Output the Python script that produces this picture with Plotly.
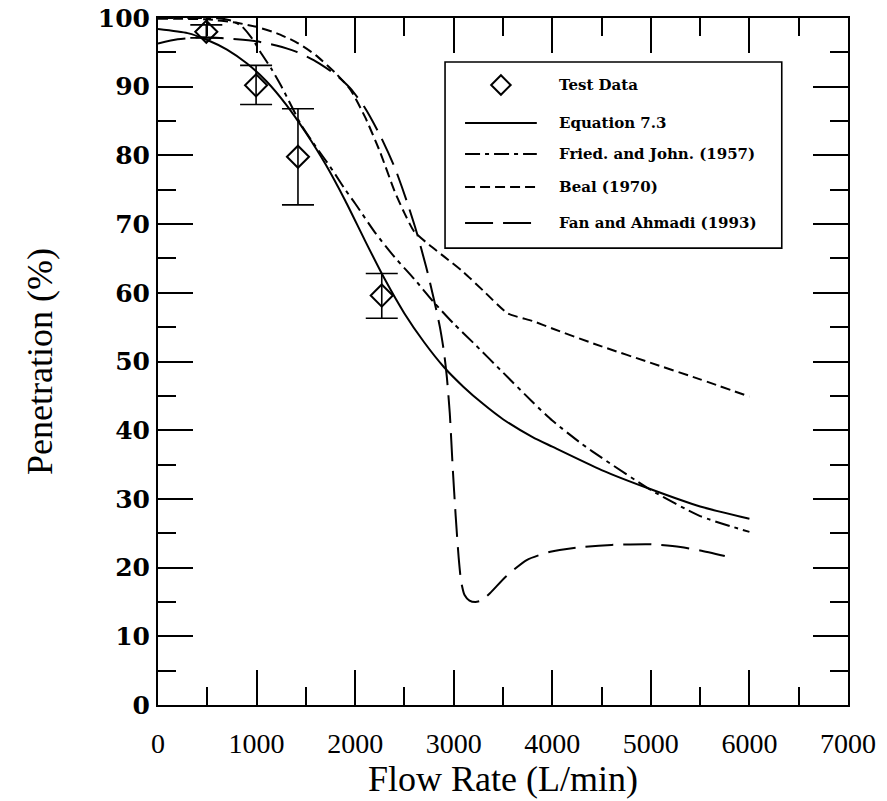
import plotly.graph_objects as go

# ---- measured test data ----
test_flow = [490, 995, 1420, 2270]
test_pen = [98.0, 90.2, 79.8, 59.6]
test_err_plus = [1.0, 2.9, 7.0, 3.2]
test_err_minus = [0.9, 2.8, 7.0, 3.3]

# ---- model curves ----
eq73_flow = [0, 300, 500, 700, 900, 1100, 1300, 1500, 1700, 1900, 2100, 2300,
             2500, 2700, 2900, 3100, 3300, 3500, 3800, 4000, 4500, 5000, 5500, 6000]
eq73_pen = [98.4, 97.8, 96.8, 95.4, 93.4, 90.8, 87.4, 83.3, 78.7, 73.4, 67.6, 62.0,
            57.0, 52.8, 49.2, 46.3, 43.8, 41.6, 39.0, 37.6, 34.2, 31.4, 28.9, 27.1]

fried_flow = [0, 400, 650, 750, 850, 950, 1050, 1150, 1250, 1350, 1450, 1600, 1700,
              1800, 1900, 2000, 2200, 2400, 2600, 2800, 3000, 3200, 3500, 3800, 4000,
              4300, 4500, 5000, 5500, 6000]
fried_pen = [100.0, 100.0, 99.9, 99.6, 98.8, 97.1, 94.8, 92.6, 90.1, 87.3, 84.5, 81.3, 79.3,
             77.2, 75.0, 73.0, 68.8, 65.2, 62.0, 58.6, 55.5, 52.7, 48.4, 44.1, 41.4,
             38.0, 36.0, 31.3, 27.5, 25.2]

beal_flow = [0, 500, 800, 1000, 1200, 1400, 1600, 1800, 1950, 2100, 2250, 2400, 2500,
             2600, 2750, 2900, 3100, 3300, 3550, 3800, 4000, 4500, 5000, 5500, 6000]
beal_pen = [99.9, 99.8, 99.3, 98.7, 97.8, 96.5, 94.6, 92.0, 89.6, 85.6, 80.6, 74.8, 71.6,
            68.9, 67.0, 65.3, 63.0, 60.3, 57.0, 55.9, 54.8, 52.2, 49.8, 47.4, 44.9]

fan_flow = [0, 200, 450, 800, 1000, 1200, 1400, 1600, 1800, 1950, 2100, 2250, 2400,
            2520, 2620, 2720, 2800, 2860, 2900, 2930, 2960, 2990, 3020, 3050, 3075,
            3110, 3160, 3220, 3280, 3370, 3530, 3740, 3980, 4300, 4600, 5000, 5300,
            5500, 5750]
fan_pen = [96.3, 96.9, 97.2, 96.9, 96.6, 96.0, 95.1, 93.7, 91.8, 89.8, 86.9, 83.0, 78.3,
           73.5, 69.0, 63.8, 59.0, 55.0, 51.5, 47.8, 42.5, 34.5, 27.5, 21.5, 18.0,
           16.0, 15.2, 15.0, 15.2, 16.3, 18.7, 21.1, 22.3, 23.0, 23.3, 23.4, 23.0,
           22.5, 21.7]

legend_labels = ["Test Data", "Equation 7.3", "Fried. and John. (1957)",
                 "Beal (1970)", "Fan and Ahmadi (1993)"]

x_ticks = [0, 1000, 2000, 3000, 4000, 5000, 6000, 7000]
y_ticks = [0, 10, 20, 30, 40, 50, 60, 70, 80, 90, 100]

BLACK = "#000000"
LINE_W = 2
styles = [
    ("solid", eq73_flow, eq73_pen),
    ("15px,5px,4px,5px", fried_flow, fried_pen),
    ("10px,5px", beal_flow, beal_pen),
    ("28px,10px", fan_flow, fan_pen),
]

fig = go.Figure()

for dash, xs, ys in styles:
    fig.add_trace(go.Scatter(
        x=xs, y=ys, mode="lines",
        line=dict(color=BLACK, width=LINE_W, dash=dash, shape="spline", smoothing=0.6),
        showlegend=False, hoverinfo="skip"))

fig.add_trace(go.Scatter(
    x=test_flow, y=test_pen, mode="markers",
    marker=dict(symbol="diamond-open", size=17, color=BLACK, line=dict(width=2, color=BLACK)),
    error_y=dict(type="data", symmetric=False, array=test_err_plus, arrayminus=test_err_minus,
                 color=BLACK, thickness=1.6, width=16),
    showlegend=False))

# ---- key box drawn on a hidden overlay axis (0..1 in both directions) ----
key_x0, key_x1 = 0.416, 0.904
key_y0, key_y1 = 0.665, 0.936
row_y = [0.9025, 0.847, 0.802, 0.754, 0.7016]
sample_x = [0.445, 0.549]
text_x = 0.578

fig.add_trace(go.Scatter(
    x=[(sample_x[0] + sample_x[1]) / 2], y=[row_y[0]], mode="markers",
    marker=dict(symbol="diamond-open", size=15, color=BLACK, line=dict(width=2, color=BLACK)),
    xaxis="x2", yaxis="y2", showlegend=False, hoverinfo="skip"))
for i, (dash, _, _) in enumerate(styles):
    fig.add_trace(go.Scatter(
        x=sample_x, y=[row_y[i + 1]] * 2, mode="lines",
        line=dict(color=BLACK, width=LINE_W, dash=dash),
        xaxis="x2", yaxis="y2", showlegend=False, hoverinfo="skip"))

fig.add_shape(type="rect", xref="x2", yref="y2", x0=key_x0, x1=key_x1, y0=key_y0, y1=key_y1,
              line=dict(color=BLACK, width=1.6), fillcolor="rgba(0,0,0,0)", layer="below")

for label, yv in zip(legend_labels, row_y):
    fig.add_annotation(x=text_x, y=yv, xref="x2", yref="y2", text=label, showarrow=False,
                       xanchor="left", yanchor="middle",
                       font=dict(family="DejaVu Serif", size=15, color=BLACK, weight="bold"))

axis_common = dict(
    showgrid=False, zeroline=False, showline=True, linecolor=BLACK, linewidth=2,
    mirror="ticks", ticks="inside", ticklen=35, tickwidth=2, tickcolor=BLACK,
    automargin=False,
)

fig.update_layout(
    width=887, height=801,
    margin=dict(l=158, r=39, t=18, b=96),
    paper_bgcolor="white", plot_bgcolor="white",
    xaxis=dict(
        range=[0, 7000], tickvals=x_ticks, ticktext=[str(v) for v in x_ticks],
        minor=dict(dtick=500, ticklen=18, tickwidth=2, tickcolor=BLACK, ticks="inside"),
        tickfont=dict(family="Liberation Serif", size=28, color=BLACK),
        ticklabelstandoff=12,
        title=dict(text="Flow Rate (L/min)", standoff=0,
                   font=dict(family="Liberation Serif", size=36, color=BLACK)),
        **axis_common),
    yaxis=dict(
        range=[0, 100], tickvals=y_ticks, ticktext=[str(v) for v in y_ticks],
        minor=dict(dtick=5, ticklen=18, tickwidth=2, tickcolor=BLACK, ticks="inside"),
        tickfont=dict(family="DejaVu Serif", size=25, color=BLACK, weight="bold"),
        ticklabelstandoff=1,
        title=dict(text="Penetration (%)", standoff=34,
                   font=dict(family="Liberation Serif", size=36, color=BLACK)),
        **axis_common),
    xaxis2=dict(range=[0, 1], overlaying="x", visible=False, fixedrange=True),
    yaxis2=dict(range=[0, 1], overlaying="y", visible=False, fixedrange=True),
    showlegend=False,
)

fig.write_html("out.html")
